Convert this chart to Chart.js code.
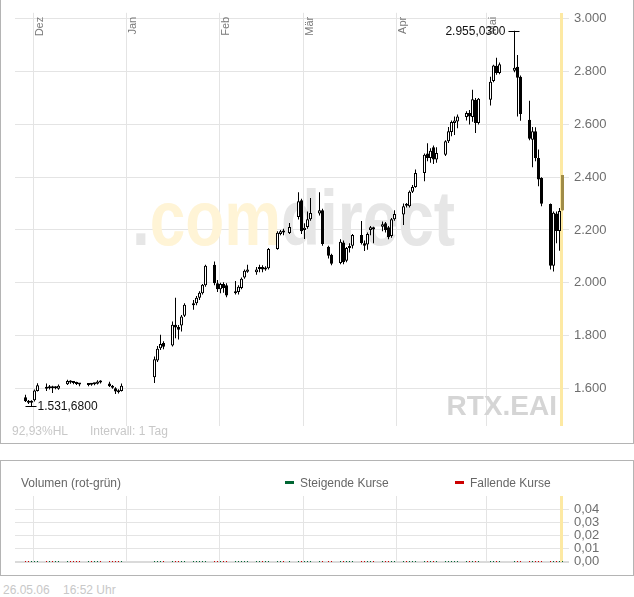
<!DOCTYPE html>
<html lang="de">
<head>
<meta charset="UTF-8">
<title>RTX.EAI</title>
<script src="https://cdn.jsdelivr.net/npm/chart.js"></script>
<style>
  body { margin: 0; background: #fff; font-family: "Liberation Sans", Arial, sans-serif; }
  #wrap { position: relative; width: 634px; height: 597px; overflow: hidden; }
  canvas { position: absolute; left: 0; }
  .box { position: absolute; left: 0; width: 634px; box-sizing: border-box; border: 1px solid #b4b4b4; pointer-events: none; }
  .txt { position: absolute; font-size: 12px; line-height: 14px; white-space: nowrap; }
  .dash { position: absolute; width: 9px; height: 3px; }
</style>
</head>
<body>
<div id="wrap">
  <canvas id="kurs" width="634" height="444" style="top:0"></canvas>
  <div class="box" style="top:0;height:444px;border-top:none"></div>
  <div class="txt" style="left:12px;top:424px;color:#c8c8c8">92,93%HL</div>
  <div class="txt" style="left:90px;top:424px;color:#c8c8c8">Intervall: 1 Tag</div>

  <canvas id="volumen" width="634" height="115" style="top:460px"></canvas>
  <div class="box" style="top:460px;height:116px"></div>
  <div class="txt" style="left:21px;top:476px;color:#666">Volumen (rot-grün)</div>
  <div class="dash" style="left:285px;top:481px;background:#006633"></div>
  <div class="txt" style="left:300px;top:476px;color:#666">Steigende Kurse</div>
  <div class="dash" style="left:455px;top:481px;background:#cc0000"></div>
  <div class="txt" style="left:470px;top:476px;color:#666">Fallende Kurse</div>

  <div class="txt" style="left:3px;top:583px;color:#c8c8c8">26.05.06</div>
  <div class="txt" style="left:63px;top:583px;color:#c8c8c8">16:52 Uhr</div>
</div>

<script>
// Handelstage (Tageskerzen)
const dates = [
  '2005-11-28','2005-11-29','2005-11-30','2005-12-01','2005-12-02',
  '2005-12-05','2005-12-06','2005-12-07','2005-12-08','2005-12-09',
  '2005-12-12','2005-12-13','2005-12-14','2005-12-15','2005-12-16',
  '2005-12-19','2005-12-20','2005-12-21','2005-12-22','2005-12-23',
  '2005-12-26','2005-12-27','2005-12-28','2005-12-29','2005-12-30',
  '2006-01-10','2006-01-11','2006-01-12','2006-01-13',
  '2006-01-16','2006-01-17','2006-01-18','2006-01-19','2006-01-20',
  '2006-01-23','2006-01-24','2006-01-25','2006-01-26','2006-01-27',
  '2006-01-30','2006-01-31','2006-02-01','2006-02-02','2006-02-03',
  '2006-02-06','2006-02-07','2006-02-08','2006-02-09','2006-02-10',
  '2006-02-13','2006-02-14','2006-02-15','2006-02-16','2006-02-17',
  '2006-02-20','2006-02-21','2006-02-22','2006-02-24',
  '2006-02-27','2006-02-28','2006-03-01','2006-03-02','2006-03-03',
  '2006-03-06','2006-03-07','2006-03-09','2006-03-10',
  '2006-03-13','2006-03-14','2006-03-15','2006-03-16','2006-03-17',
  '2006-03-20','2006-03-21','2006-03-22','2006-03-23','2006-03-24',
  '2006-03-27','2006-03-28','2006-03-29','2006-03-30','2006-03-31',
  '2006-04-03','2006-04-04','2006-04-05','2006-04-06','2006-04-07',
  '2006-04-10','2006-04-11','2006-04-12','2006-04-13','2006-04-14',
  '2006-04-17','2006-04-18','2006-04-19','2006-04-20','2006-04-21',
  '2006-04-24','2006-04-25','2006-04-26','2006-04-27','2006-04-28',
  '2006-05-02','2006-05-03','2006-05-04','2006-05-05',
  '2006-05-10','2006-05-11','2006-05-12',
  '2006-05-15','2006-05-16','2006-05-17','2006-05-18','2006-05-19',
  '2006-05-22','2006-05-23','2006-05-24','2006-05-25','2006-05-26'
];

const open = [
  1566,1548,1545,1555,1590, 1605,1600,1603,1600,1598, 1615,1626,1622,1620,1616,
  1612,1614,1615,1617,1625, 1618,1608,1600,1590,1590,
  1642,1705,1752,1772, 1762,1841,1832,1838,1875, 1915,1922,1943,1960,1990,
  2068,1998,1975,1995,1990, 1960,1965,1980,2020,2042, 2040,2052,2060,2050,2055,
  2128,2185,2198,2188, 2249,2313,2200,2211,2241, 2262,2275,2136,2106,
  2075,2152,2083,2132,2140, 2181,2150,2145,2200,2210, 2212,2225,2210,2177,2241,
  2259,2298,2290,2345,2363, 2416,2490,2473,2513,2467, 2485,2536,2571,2605,2611,
  2628,2643,2628,2693,2605, 2693,2765,2822,2795, 2803,2819,2781,
  2618,2542,2574,2473,2397, 2298,2064,2262,2196,2274
];
const high = [
  1575,1556,1555,1595,1619, 1618,1612,1610,1608,1614, 1632,1630,1628,1625,1620,
  1620,1618,1621,1630,1630, 1625,1612,1604,1596,1618,
  1720,1760,1803,1778, 1853,1943,1840,1878,1922, 1935,1950,1968,1995,2068,
  2080,2010,2000,2002,1998, 2007,1990,2020,2050,2068, 2060,2068,2066,2062,2132,
  2195,2200,2205,2226, 2343,2318,2225,2270,2321, 2343,2280,2140,2110,
  2165,2160,2135,2150,2185, 2234,2160,2190,2215,2212, 2232,2230,2215,2245,2275,
  2300,2302,2350,2370,2429, 2490,2529,2510,2520,2513, 2540,2590,2615,2630,2638,
  2650,2655,2731,2700,2700, 2781,2826,2853,2835, 2955.03,2863,2785,
  2690,2590,2589,2505,2400, 2300,2270,2270,2283,2408
];
const low = [
  1548,1540,1531.68,1550,1588, 1590,1595,1582,1596,1594, 1612,1617,1615,1612,1608,
  1608,1610,1611,1614,1618, 1605,1598,1578,1580,1588,
  1620,1700,1745,1748, 1758,1790,1785,1815,1870, 1898,1915,1935,1955,1985,
  1990,1965,1960,1962,1945, 1955,1955,1975,2015,2038, 2030,2040,2040,2045,2050,
  2125,2180,2180,2185, 2240,2185,2166,2205,2235, 2255,2140,2092,2066,
  2070,2070,2078,2115,2130, 2145,2120,2125,2180,2150, 2195,2190,2165,2170,2235,
  2219,2285,2285,2340,2360, 2385,2460,2455,2450,2455, 2480,2530,2555,2560,2585,
  2615,2600,2610,2567,2600, 2672,2760,2788,2790, 2798,2630,2614,
  2540,2438,2460,2366,2290, 2050,2043,2150,2121,2274
];
const close = [
  1551,1545,1550,1592,1611, 1598,1603,1600,1602,1610, 1628,1622,1620,1616,1614,
  1616,1613,1617,1626,1622, 1608,1602,1588,1585,1610,
  1710,1750,1768,1757, 1841,1830,1822,1872,1917, 1922,1943,1962,1992,2064,
  1998,1975,1995,1980,1952, 1968,1985,2015,2045,2050, 2050,2056,2050,2055,2128,
  2189,2195,2190,2211, 2309,2195,2208,2241,2264, 2275,2147,2102,2072,
  2155,2078,2132,2138,2181, 2151,2140,2185,2210,2202, 2222,2200,2172,2241,2260,
  2290,2292,2345,2363,2416, 2485,2473,2500,2467,2492, 2536,2574,2609,2615,2630,
  2643,2630,2695,2605,2697, 2762,2823,2795,2828, 2815,2777,2639,
  2546,2574,2473,2391,2299, 2064,2265,2196,2272,2408
];
// Umsatz (im Original leer)
const volume = [
  0,0,0,0,0, 0,0,0,0,0, 0,0,0,0,0, 0,0,0,0,0, 0,0,0,0,0,
  0,0,0,0, 0,0,0,0,0, 0,0,0,0,0, 0,0,0,0,0, 0,0,0,0,0, 0,0,0,0,0,
  0,0,0,0, 0,0,0,0,0, 0,0,0,0, 0,0,0,0,0, 0,0,0,0,0, 0,0,0,0,0,
  0,0,0,0,0, 0,0,0,0,0, 0,0,0,0,0, 0,0,0,0,0, 0,0,0,0, 0,0,0,
  0,0,0,0,0, 0,0,0,0,0
];

const monthStarts = ['2005-12-01','2006-01-01','2006-02-01','2006-03-01','2006-04-01','2006-05-01'];
const monthLabels = ['Dez','Jan','Feb','Mär','Apr','Mai'];
const priceTicks = [1600,1800,2000,2200,2400,2600,2800,3000];
const volumeTicks = [0,0.01,0.02,0.03,0.04];

const FONT = '"Liberation Sans", Arial, sans-serif';
Chart.defaults.font.family = FONT;

function dayOf(s) {
  const [y, m, d] = s.split('-').map(Number);
  return (Date.UTC(y, m - 1, d) - Date.UTC(2005, 11, 1)) / 86400000;
}
const dayX = s => dayOf(s) + 0.5;

function de(v, dec) {
  const [i, f] = v.toFixed(dec).split('.');
  return i.replace(/\B(?=(\d{3})+(?!\d))/g, '.') + (f ? ',' + f : '');
}

const last = dates.length - 1;
const rising = i => close[i] >= open[i];

// 3 px pro Kalendertag
const xAxis = () => ({
  type: 'linear', min: -6, max: -6 + 554 / 3, offset: false,
  grid: { color: '#e4e4e4', drawTicks: false, offset: false },
  border: { display: false },
  ticks: { display: false },
  afterBuildTicks: s => { s.ticks = monthStarts.map(m => ({ value: dayOf(m) })); },
  afterFit: s => { s.height = 0; }
});

const heute = {
  id: 'heute',
  beforeDatasetsDraw(chart) {
    const { ctx, chartArea: a, scales: { x } } = chart;
    const hx = x.getPixelForValue(dayX(dates[last]));
    ctx.save();
    ctx.fillStyle = '#fde9a3';
    ctx.fillRect(Math.round(hx - 2.5), Math.round(a.top), 3, Math.round(a.bottom - a.top));
    ctx.restore();
  }
};

const kursOverlay = {
  id: 'kursOverlay',
  beforeDatasetsDraw(chart) {
    const ctx = chart.ctx;
    ctx.save();
    ctx.font = 'bold 78px ' + FONT;
    ctx.textBaseline = 'alphabetic';
    const total = ctx.measureText('.comdirect').width;
    ctx.translate(132, 245);
    ctx.scale(323 / total, 1);
    let cx = 0;
    for (const [t, c] of [['.', '#e6e6e6'], ['com', '#fff4d6'], ['direct', '#e6e6e6']]) {
      ctx.fillStyle = c;
      ctx.fillText(t, cx, 0);
      cx += ctx.measureText(t).width;
    }
    ctx.restore();
    ctx.save();
    ctx.font = 'bold 28px ' + FONT;
    ctx.fillStyle = '#d5d5d5';
    ctx.textAlign = 'right';
    ctx.fillText('RTX.EAI', 557, 415);
    ctx.restore();
  },
  afterDatasetsDraw(chart) {
    const { ctx, chartArea: a, scales: { x, y } } = chart;
    ctx.save();
    // Monatsnamen
    ctx.font = '11px ' + FONT;
    ctx.fillStyle = '#7a7a7a';
    ctx.textAlign = 'right';
    ctx.textBaseline = 'top';
    monthStarts.forEach((m, i) => {
      const gx = Math.round(x.getPixelForValue(dayOf(m)));
      ctx.save();
      ctx.translate(gx + 1, a.top + 4);
      ctx.rotate(-Math.PI / 2);
      ctx.fillText(monthLabels[i], 0, 0);
      ctx.restore();
    });
    // Hoch / Tief
    const iMax = high.indexOf(Math.max(...high));
    const iMin = low.indexOf(Math.min(...low));
    ctx.strokeStyle = '#000';
    ctx.lineWidth = 1;
    ctx.fillStyle = '#111';
    ctx.font = '12px ' + FONT;
    ctx.textBaseline = 'middle';
    let px = x.getPixelForValue(dayX(dates[iMax]));
    let py = Math.round(y.getPixelForValue(high[iMax])) + 0.5;
    ctx.beginPath(); ctx.moveTo(px - 6, py); ctx.lineTo(px + 5, py); ctx.stroke();
    ctx.textAlign = 'right';
    ctx.fillText(de(high[iMax], 4), px - 9, py);
    px = x.getPixelForValue(dayX(dates[iMin]));
    py = Math.round(y.getPixelForValue(low[iMin])) + 0.5;
    ctx.beginPath(); ctx.moveTo(px - 6, py); ctx.lineTo(px + 5, py); ctx.stroke();
    ctx.textAlign = 'left';
    ctx.fillText(de(low[iMin], 4), px + 6, py);
    ctx.restore();
  }
};

new Chart(document.getElementById('kurs'), {
  type: 'bar',
  data: {
    datasets: [
      {
        label: 'Kerzen',
        order: 0,
        data: dates.map((d, i) => ({ x: dayX(d), y: [Math.min(open[i], close[i]), Math.max(open[i], close[i])] })),
        backgroundColor: dates.map((d, i) => i === last ? 'rgba(0,0,0,0)' : (rising(i) ? '#fff' : '#000')),
        borderColor: dates.map((d, i) => i === last ? '#a08c48' : '#000'),
        borderWidth: 1,
        borderSkipped: false,
        inflateAmount: 0,
        barThickness: 3,
        minBarLength: 2,
        grouped: false
      },
      {
        label: 'Dochte',
        order: 1,
        data: dates.map((d, i) => ({ x: dayX(d), y: [low[i], high[i]] })),
        backgroundColor: dates.map((d, i) => i === last ? '#a08c48' : '#000'),
        borderWidth: 0,
        inflateAmount: 0,
        barThickness: 1,
        grouped: false
      }
    ]
  },
  options: {
    responsive: false,
    animation: false,
    events: [],
    layout: { padding: { left: 15, top: 11, right: 0, bottom: 18 } },
    plugins: { legend: { display: false }, tooltip: { enabled: false } },
    scales: {
      x: xAxis(),
      y: {
        position: 'right', min: 1457, max: 3023,
        grid: { color: '#e4e4e4', drawTicks: false },
        border: { display: false },
        ticks: { color: '#6e6e6e', padding: 5, font: { size: 13 }, autoSkip: false, callback: v => de(v, 0) },
        afterBuildTicks: s => { s.ticks = priceTicks.map(v => ({ value: v })); },
        afterFit: s => { s.width = 65; }
      }
    }
  },
  plugins: [heute, kursOverlay]
});

new Chart(document.getElementById('volumen'), {
  type: 'scatter',
  data: {
    datasets: [{
      label: 'Volumen',
      data: dates.map((d, i) => ({ x: dayX(d), y: volume[i] })),
      pointStyle: 'rect',
      pointRadius: 0.71,
      pointBorderWidth: 0,
      pointBackgroundColor: dates.map((d, i) => rising(i) ? '#006633' : '#cc0000'),
      clip: false
    }]
  },
  options: {
    responsive: false,
    animation: false,
    events: [],
    layout: { padding: { left: 15, top: 36, right: 0, bottom: 13.5 } },
    plugins: { legend: { display: false }, tooltip: { enabled: false } },
    scales: {
      x: xAxis(),
      y: {
        position: 'right', min: 0, max: 0.05,
        grid: {
          drawTicks: false,
          color: c => c.tick && c.tick.value === 0 ? '#dadada' : '#e4e4e4',
          lineWidth: c => c.tick && c.tick.value === 0 ? 2 : 1
        },
        border: { display: false },
        ticks: { color: '#6e6e6e', padding: 5, font: { size: 13 }, autoSkip: false, callback: v => de(v, 2) },
        afterBuildTicks: s => { s.ticks = volumeTicks.map(v => ({ value: v })); },
        afterFit: s => { s.width = 65; }
      }
    }
  },
  plugins: [heute]
});
</script>
</body>
</html>
